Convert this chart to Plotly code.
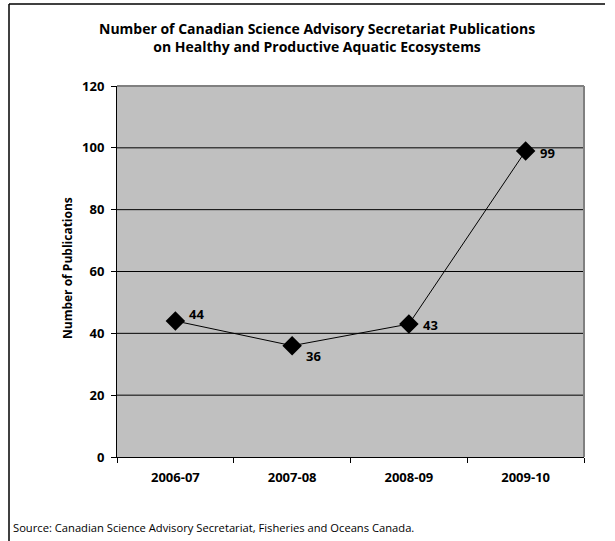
import plotly.graph_objects as go

categories = ["2006-07", "2007-08", "2008-09", "2009-10"]
publications = [44, 36, 43, 99]
label_yshift = [7, -10, -1, -2]
y_ticks = [0, 20, 40, 60, 80, 100, 120]

title_text = ("Number of Canadian Science Advisory Secretariat Publications<br>"
              "on Healthy and Productive Aquatic Ecosystems")
y_title = "Number of Publications"
source_text = "Source: Canadian Science Advisory Secretariat, Fisheries and Oceans Canada."
font_family = "Open Sans, Noto Sans, DejaVu Sans, sans-serif"

PW, PH = 467, 371  # plot area size in px

fig = go.Figure()
fig.add_trace(go.Scatter(
    x=categories, y=publications,
    mode="lines+markers",
    line=dict(color="black", width=1),
    marker=dict(symbol="diamond", size=15, color="black"),
    cliponaxis=False,
    hoverinfo="skip",
))

for cat, val, ys in zip(categories, publications, label_yshift):
    fig.add_annotation(x=cat, y=val, text=str(val), showarrow=False,
                       xanchor="left", yanchor="middle", xshift=12, yshift=ys,
                       font=dict(family=font_family, size=13, color="black", weight="bold"))

# gridlines (black)
for v in y_ticks[1:-1]:
    fig.add_shape(type="line", xref="paper", yref="y", x0=0, x1=1, y0=v, y1=v,
                  line=dict(color="black", width=1), layer="below")

fig.update_layout(
    width=615, height=541,
    margin=dict(l=117, r=31, t=86, b=84),
    paper_bgcolor="white",
    plot_bgcolor="#C0C0C0",
    showlegend=False,
    font=dict(family=font_family, color="black"),
    xaxis=dict(
        type="category",
        range=[-0.5, 3.5],
        tickson="boundaries",
        ticks="outside", ticklen=5, tickcolor="black",
        showline=True, linecolor="black", linewidth=1,
        showgrid=False, zeroline=False,
        tickfont=dict(family=font_family, size=13, color="black", weight="bold"),
        ticklabelstandoff=8,
    ),
    yaxis=dict(
        range=[0, 120],
        tickvals=y_ticks,
        ticks="outside", ticklen=5, tickcolor="black",
        showline=True, linecolor="black", linewidth=1,
        showgrid=False, zeroline=False,
        tickfont=dict(family=font_family, size=13, color="black", weight="bold"),
        ticklabelstandoff=4,
    ),
)

# title
fig.add_annotation(text=title_text, xref="paper", yref="paper",
                   x=(317 - 117) / PW, y=1 + (86 - 38) / PH,
                   xanchor="center", yanchor="middle", showarrow=False,
                   font=dict(family=font_family, size=14, color="black", weight="bold"))

# y-axis title
fig.add_annotation(text=y_title, xref="paper", yref="paper",
                   x=(67 - 117) / PW, y=(457 - 268) / PH, textangle=-90,
                   xanchor="center", yanchor="middle", showarrow=False,
                   font=dict(family=font_family, size=12, color="black", weight="bold"))

# plot area top and right border (gray)
fig.add_shape(type="line", xref="paper", yref="paper", x0=0, x1=1, y0=1, y1=1,
              line=dict(color="#808080", width=2))
fig.add_shape(type="line", xref="paper", yref="paper", x0=1, x1=1, y0=0, y1=1,
              line=dict(color="#808080", width=2))

# outer frame: top and left lines
fig.add_shape(type="line", xref="paper", yref="paper",
              x0=-108 / PW, x1=488 / PW, y0=1 + 82 / PH, y1=1 + 82 / PH,
              line=dict(color="black", width=1.5))
fig.add_shape(type="line", xref="paper", yref="paper",
              x0=-108 / PW, x1=-108 / PW, y0=1 + 82 / PH, y1=-84 / PH,
              line=dict(color="black", width=1.5))

fig.add_annotation(text=source_text, xref="paper", yref="paper",
                   x=-106 / PW, y=-70 / PH, xanchor="left", yanchor="middle",
                   showarrow=False,
                   font=dict(family=font_family, size=11.2, color="black"))

fig.write_html("out.html")
